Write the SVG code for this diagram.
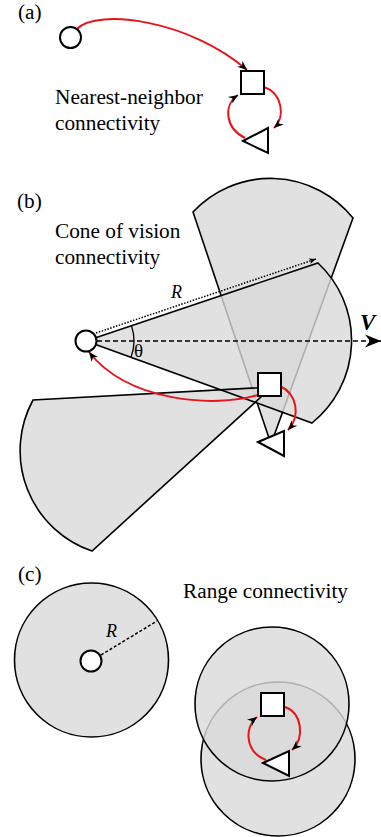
<svg xmlns="http://www.w3.org/2000/svg" width="381" height="837" viewBox="0 0 381 837">
<style>
  text { font-family: "Liberation Serif", "Times New Roman", serif; fill: #000; }
  .lbl { font-size: 21.3px; }
  .it { font-style: italic; font-size: 18px; }
  .node { fill: #fff; stroke: #000; stroke-width: 2; }
  .zone { fill: #d9d9d9; fill-opacity: 0.8; stroke: none; }
  .zedge { fill: none; stroke: #000; stroke-width: 1.6; stroke-linejoin: miter; }
  .link { fill: none; stroke: #e8141c; stroke-width: 2; marker-end: url(#ah); }
</style>
<defs>
  <marker id="ah" viewBox="-10 -5 10 10" refX="0" refY="0" markerWidth="10" markerHeight="10" markerUnits="userSpaceOnUse" orient="auto">
    <path d="M0,0 L-9.5,-4 L-6.5,0 L-9.5,4 Z" fill="#000"/>
  </marker>
  <marker id="big" viewBox="-17 -8 17 16" refX="0" refY="0" markerWidth="17" markerHeight="16" markerUnits="userSpaceOnUse" orient="auto">
    <path d="M0,0 L-16,-6.5 L-11,0 L-16,6.5 Z" fill="#000"/>
  </marker>
  <marker id="sm" viewBox="-8 -4 8 8" refX="0" refY="0" markerWidth="8" markerHeight="8" markerUnits="userSpaceOnUse" orient="auto">
    <path d="M0,0 L-7,-3 L-5,0 L-7,3 Z" fill="#000"/>
  </marker>
</defs>

<!-- Panel (a) -->
<text class="lbl" x="18" y="19">(a)</text>
<text class="lbl" x="55" y="104">Nearest-neighbor</text>
<text class="lbl" x="55" y="130">connectivity</text>

<!-- Panel (b) regions -->
<g id="cone-triangle">
  <path class="zone" d="M 271 444 L 193 212 A 106 106 0 0 1 353 218 Z"/>
  <path class="zedge" d="M 271 444 L 193 212 A 106 106 0 0 1 353 218 Z"/>
</g>
<g id="cone-square-fill"><path class="zone" d="M 272 387 L 92 551 A 106 106 0 0 1 33 400 Z"/></g>
<g id="cone-circle-fill"><path class="zone" d="M 86 341 L 318 263 A 106 106 0 0 1 312 423 Z"/></g>
<g id="cone-edges">
  <path class="zedge" d="M 272 387 L 92 551 A 106 106 0 0 1 33 400 Z"/>
  <path class="zedge" d="M 86 341 L 318 263 A 106 106 0 0 1 312 423 Z"/>
</g>
<g id="cone-annotations">
  <path d="M 96 333 L 316 259" fill="none" stroke="#000" stroke-width="1.5" stroke-dasharray="1.5 1.5" marker-end="url(#sm)"/>
  <path d="M 97 341 L 381 341" fill="none" stroke="#000" stroke-width="1.5" stroke-dasharray="5 3" marker-end="url(#big)"/>
  <path d="M 131.5 325.8 A 48 48 0 0 1 131 357.4" fill="none" stroke="#000" stroke-width="1.3"/>
  <text class="it" x="171" y="298">R</text>
  <text x="134" y="357" style="font-size:19px">θ</text>
  <text x="360" y="330" style="font-size:23px;font-weight:bold;font-style:italic">V</text>
</g>
<text class="lbl" x="17" y="208">(b)</text>
<text class="lbl" x="55" y="238">Cone of vision</text>
<text class="lbl" x="55" y="264">connectivity</text>

<!-- Panel (c) regions -->
<g id="range-circle">
  <circle class="zone" cx="91.5" cy="660" r="77"/>
  <circle class="zedge" cx="91.5" cy="660" r="77"/>
  <path d="M 101 655 L 157 621" fill="none" stroke="#000" stroke-width="1.5" stroke-dasharray="3 2"/>
  <text class="it" x="106" y="637">R</text>
</g>
<g id="range-triangle">
  <circle class="zone" cx="278" cy="759" r="77"/>
  <circle class="zedge" cx="278" cy="759" r="77"/>
</g>
<g id="range-square">
  <circle class="zone" cx="272" cy="704" r="77"/>
  <circle class="zedge" cx="272" cy="704" r="77"/>
</g>
<text class="lbl" x="18" y="581">(c)</text>
<text class="lbl" x="183" y="598">Range connectivity</text>

<!-- Connectors -->
<g id="connectors">
  <path class="link" d="M 77 29 C 97 8, 190 20, 247 70"/>
  <path class="link" d="M 264 87 C 282 93, 286 117, 274 128"/>
  <path class="link" d="M 245 138 C 225 128, 223 105, 238 95"/>
  <path class="link" d="M 258 395 C 215 408, 128 402, 89 352"/>
  <path class="link" d="M 280 386 C 297 394, 301 416, 288 430"/>
  <path class="link" d="M 285 707 C 302 713, 305 738, 292 750"/>
  <path class="link" d="M 266 760 C 245 752, 244 727, 257 717"/>
</g>

<!-- Nodes -->
<g id="a-circle"><circle class="node" cx="70.5" cy="37.5" r="10.5"/></g>
<g id="a-square"><rect class="node" x="241" y="71" width="23" height="23"/></g>
<g id="a-triangle"><polygon class="node" points="243,141 268,128 268,153"/></g>

<g id="b-circle"><circle class="node" cx="86" cy="341" r="10.5"/></g>
<g id="b-square"><rect class="node" x="258" y="373" width="23" height="23"/></g>
<g id="b-triangle"><polygon class="node" points="258,442 284,431 284,456"/></g>

<g id="c-circle"><circle class="node" cx="91" cy="661" r="10.5"/></g>
<g id="c-square"><rect class="node" x="261" y="693" width="23" height="23"/></g>
<g id="c-triangle"><polygon class="node" points="263,763 289,751 289,776"/></g>
</svg>
